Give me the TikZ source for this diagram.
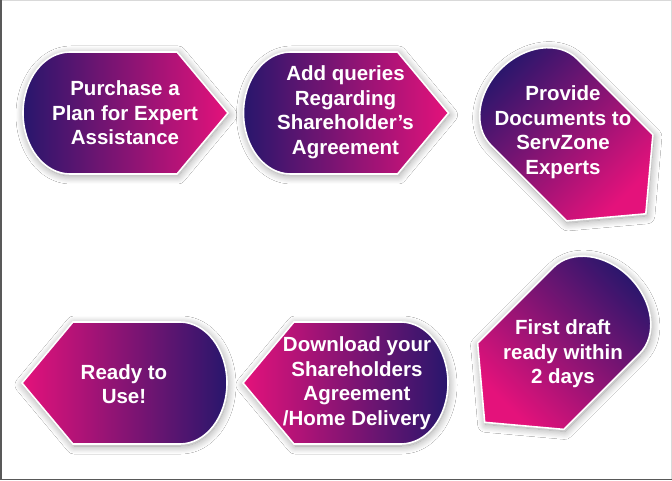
\documentclass[tikz,border=0pt]{standalone}
\usepackage{fontspec}
\setmainfont{Liberation Sans}
\usepackage{tikz}
\usetikzlibrary{shadows.blur}
\definecolor{stepdark}{RGB}{40,22,108}
\definecolor{steppink}{RGB}{228,18,123}
\newcommand{\stepoutline}{(-55,61) -- (52,61) -- (103,0) -- (52,-61) -- (-55,-61)
  arc[start angle=270,end angle=90,x radius=47,y radius=61] -- cycle}

\begin{document}
\begin{tikzpicture}[x=1pt,y=1pt,
    stepfill/.style={draw=white,line width=1.6pt,
      blur shadow={shadow xshift=1pt,shadow yshift=-2pt,shadow blur radius=8pt,shadow blur steps=14,shadow opacity=40}},
    steptext/.style={text=white,align=center,font=\bfseries\fontsize{20.5}{24.5}\selectfont}]
  \useasboundingbox (0,0) rectangle (672,480);
  \fill[white] (0,0) rectangle (672,480);
  \draw[gray!30] (0,479.5) -- (671.5,479.5) -- (671.5,0);
  \draw[gray!70!black,line width=1.5pt] (0.75,480) -- (0.75,0.75) -- (672,0.75);
  % top row
  \begin{scope}[shift={(125,367)}]
    \path[stepfill,left color=stepdark,right color=steppink] \stepoutline;
  \end{scope}
  \begin{scope}[shift={(345.5,367)}]
    \path[stepfill,left color=stepdark,right color=steppink] \stepoutline;
  \end{scope}
  \begin{scope}[shift={(573,339)},rotate=-45]
    \path[stepfill,top color=stepdark,bottom color=steppink,shading angle=45] \stepoutline;
  \end{scope}
  % bottom row
  \begin{scope}[shift={(557.5,130.5)},rotate=-135]
    \path[stepfill,top color=stepdark,bottom color=steppink,shading angle=-45] \stepoutline;
  \end{scope}
  \begin{scope}[shift={(346,97)},rotate=180]
    \path[stepfill,left color=steppink,right color=stepdark] \stepoutline;
  \end{scope}
  \begin{scope}[shift={(125,97)},rotate=180]
    \path[stepfill,left color=steppink,right color=stepdark] \stepoutline;
  \end{scope}
  % labels
  \node[steptext] (purchase) at (125,367) {Purchase a\\Plan for Expert\\Assistance};
  \node[steptext] (queries) at (345.5,368) {Add queries\\Regarding\\Shareholder’s\\Agreement};
  \node[steptext] (documents) at (563,348) {Provide\\Documents to\\ServZone\\Experts};
  \node[steptext] (draft) at (563,126) {First draft\\ready within\\2 days};
  \node[steptext] (download) at (357,97) {Download your\\Shareholders\\Agreement\\/Home Delivery};
  \node[steptext] (ready) at (124,96) {Ready to\\Use!};
\end{tikzpicture}
\end{document}
